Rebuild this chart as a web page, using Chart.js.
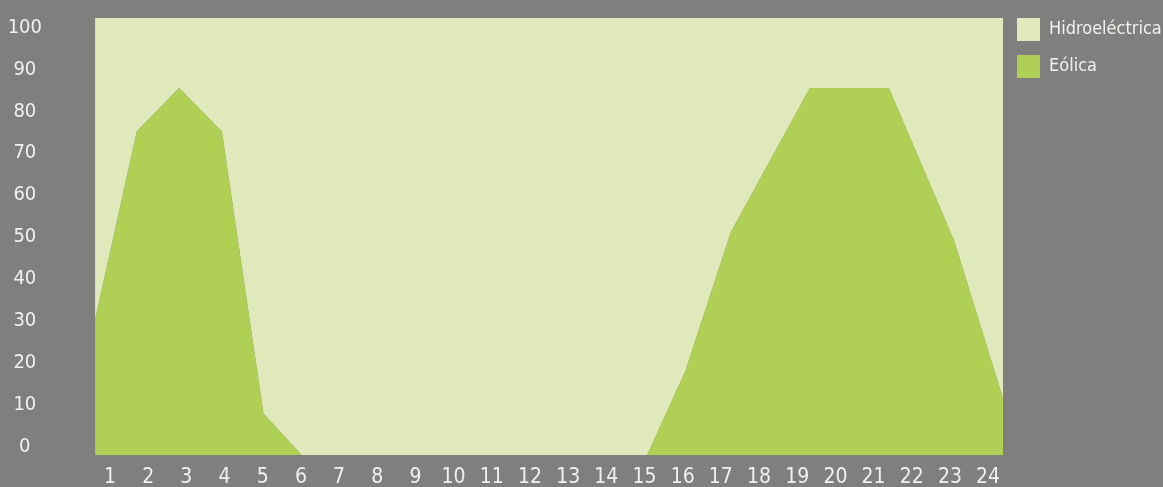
<!DOCTYPE html>
<html lang="es">
<head>
<meta charset="utf-8">
<title>Generación horaria</title>
<script src="https://cdn.jsdelivr.net/npm/chart.js@4.4.1/dist/chart.umd.min.js"></script>
<style>
  html, body { margin: 0; padding: 0; background: #7f807e; }
  #wrap { width: 1163px; height: 487px; }
</style>
</head>
<body>
<div id="wrap"><canvas id="genChart" width="1163" height="487"></canvas></div>
<script>
// hour labels along the bottom and the value labels on the left
const hourLabels = [1, 2, 3, 4, 5, 6, 7, 8, 9, 10, 11, 12, 13, 14, 15, 16, 17, 18, 19, 20, 21, 22, 23, 24];
const valueLabels = [0, 10, 20, 30, 40, 50, 60, 70, 80, 90, 100];

// sample times (in hours) and the share of each source at that time
const sampleHours = [0.61, 1.70, 2.81, 3.93, 5.02, 6.02, 15.07, 16.06, 17.26, 19.33, 21.40, 23.11, 24.39];
const eolica      = [31, 74, 84, 74, 9.5, 0, 0, 19, 51, 84, 84, 49, 13];
const hidro       = [69, 26, 16, 26, 90.5, 100, 100, 81, 49, 16, 16, 51, 87];

const TEXT_COLOR = '#f0f0f0';

// prefer a narrow face: Liberation Sans Narrow, then condensed DejaVu, then Roboto.
// the stretch keyword rides in the weight slot, Chart.js only validates style
function pickFont() {
  const c = document.createElement('canvas').getContext('2d');
  const sample = 'Hidroeléctrica 100';
  const width = f => { c.font = f; return c.measureText(sample).width; };
  const plain = width("20px sans-serif");
  const narrow = width("20px 'Liberation Sans Narrow', sans-serif");
  if (Math.abs(narrow - plain) > 1) return { weight: 'normal', family: "'Liberation Sans Narrow', sans-serif" };
  const dv = width("20px 'DejaVu Sans'");
  const dvc = width("normal condensed 20px 'DejaVu Sans'");
  if (dvc < dv - 1) return { weight: 'normal condensed', family: "'DejaVu Sans', sans-serif" };
  return { weight: 'normal', family: 'Roboto, sans-serif', small: true };
}

const face = pickFont();
const baseSize = face.small ? 18 : 20;

function font(size) {
  return { family: face.family, weight: face.weight, size: size };
}

// left padding so the value labels sit centred around x = 25
function valuePadding() {
  const c = document.createElement('canvas').getContext('2d');
  c.font = face.weight + ' ' + baseSize + 'px ' + face.family;
  return Math.round(95 - 25 - c.measureText('100').width / 2);
}

function toPoints(values) {
  return values.map((v, i) => ({ x: sampleHours[i], y: v }));
}

const ctx = document.getElementById('genChart').getContext('2d');

const chart = new Chart(ctx, {
  type: 'line',
  data: {
    datasets: [
      {
        label: 'Eólica',
        data: toPoints(eolica),
        backgroundColor: '#b0cf55',
        borderColor: '#b0cf55',
        borderWidth: 0,
        pointRadius: 0,
        fill: 'origin',
        tension: 0
      },
      {
        label: 'Hidroeléctrica',
        data: toPoints(hidro),
        backgroundColor: '#e0e9bc',
        borderColor: '#e0e9bc',
        borderWidth: 0,
        pointRadius: 0,
        fill: '-1',
        tension: 0
      }
    ]
  },
  options: {
    responsive: false,
    animation: false,
    layout: { padding: { top: 4, right: 0, bottom: 0, left: 0 } },
    plugins: {
      tooltip: { enabled: false },
      legend: {
        position: 'right',
        align: 'start',
        reverse: true,
        maxWidth: 160,
        labels: {
          boxWidth: 23,
          boxHeight: 23,
          padding: 14,
          color: TEXT_COLOR,
          font: font(baseSize - 2)
        }
      }
    },
    scales: {
      x: {
        type: 'linear',
        min: 0.607,
        max: 24.39,
        grid: { display: false, drawTicks: false },
        border: { display: false },
        afterBuildTicks: scale => {
          scale.ticks = hourLabels.map(h => ({ value: h }));
        },
        afterFit: scale => {
          scale.height = 32;
        },
        ticks: {
          padding: 10,
          color: TEXT_COLOR,
          font: font(baseSize + 1),
          maxRotation: 0,
          autoSkip: false,
          callback: v => String(v)
        }
      },
      // data scale, not drawn
      y: {
        display: false,
        stacked: true,
        min: 0,
        max: 100
      },
      // label scale drawn on the left
      yl: {
        type: 'linear',
        position: 'left',
        min: -1.98,
        max: 102.27,
        grid: { display: false, drawTicks: false },
        border: { display: false },
        afterBuildTicks: scale => {
          scale.ticks = valueLabels.map(v => ({ value: v }));
        },
        afterFit: scale => {
          scale.width = 95;
          scale.paddingTop = 18;
          scale.paddingBottom = 0;
        },
        ticks: {
          padding: valuePadding(),
          crossAlign: 'center',
          color: TEXT_COLOR,
          font: font(baseSize),
          callback: v => String(v)
        }
      }
    }
  }
});
</script>
</body>
</html>
